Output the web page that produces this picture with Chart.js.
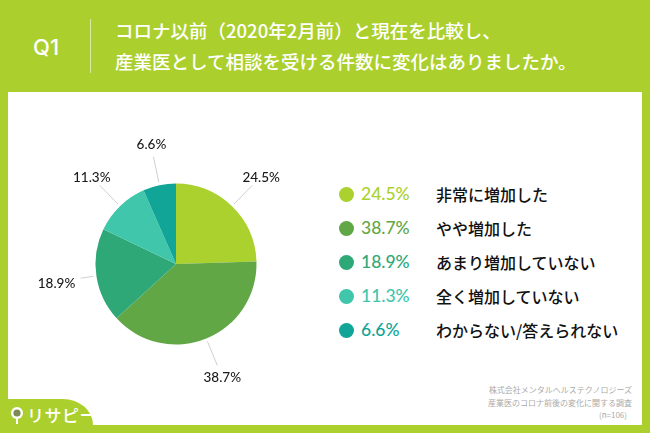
<!DOCTYPE html>
<html lang="ja"><head><meta charset="utf-8">
<script src="https://cdn.jsdelivr.net/npm/chart.js@4"></script>
<style>
html,body{margin:0;padding:0;width:650px;height:433px;overflow:hidden;background:#abd02e;}
body{position:relative;font-family:"Noto Sans CJK JP","Noto Sans",sans-serif;}
.abs{position:absolute;white-space:nowrap;}
#panel{left:8px;top:92px;width:634px;height:333px;background:#fff;}
#tab{left:8px;top:399px;width:85px;height:26px;background:#abd02e;border-top-right-radius:30px 26px;}
#q{left:33px;top:33px;font:500 22px/28px Inter,"Noto Sans",sans-serif;color:#fff;}
#div{left:90px;top:19px;width:1px;height:54px;background:rgba(255,255,255,.55);}
.t{left:115px;color:#fff;font-size:18.5px;line-height:26px;font-weight:500;}
.foot{right:18px;color:#aaa;font-size:8px;line-height:12px;}
#logo{left:27px;top:403px;color:#fff;font-size:17px;line-height:24px;font-weight:500;letter-spacing:.5px;}
.dot{left:339px;width:15px;height:15px;border-radius:50%;}
.pct{left:361px;font:500 17.5px/24px Lato,"Noto Sans",sans-serif;}
.lab{left:436px;font-size:16px;line-height:24px;font-weight:500;color:#111;}
canvas{position:absolute;left:0;top:0;}
</style></head><body>
<div class="abs" id="panel"></div>
<div class="abs" id="tab"></div>
<svg class="abs" style="left:9px;top:405px" width="16" height="22" viewBox="0 0 16 22"><circle cx="8" cy="8" r="6" fill="#fff"/><circle cx="8" cy="8" r="3.6" fill="#7d8a55"/><rect x="7" y="13" width="2" height="6" fill="#fff"/></svg>
<div class="abs" id="logo">リサピー</div>
<div class="abs" id="q">Q1</div>
<div class="abs" id="div"></div>
<div class="abs t" id="t1" style="top:17px"></div>
<div class="abs t" id="t2" style="top:48px"></div>
<div id="legend"></div>
<div class="abs foot" style="top:384px" id="f1"></div>
<div class="abs foot" style="top:397px" id="f2"></div>
<div class="abs foot" style="top:409px;right:23px" id="f3"></div>
<canvas id="c" width="650" height="433"></canvas>
<script>
const categories = ["非常に増加した","やや増加した","あまり増加していない","全く増加していない","わからない/答えられない"];
const values = [24.5,38.7,18.9,11.3,6.6];
const valueLabels = ["24.5%","38.7%","18.9%","11.3%","6.6%"];
const sliceColors = ["#abd12f","#62a746","#2fa878","#3fc6ab","#10a596"];
const titleLines = ["コロナ以前（2020年2月前）と現在を比較し、","産業医として相談を受ける件数に変化はありましたか。"];
const footLines = ["株式会社メンタルヘルステクノロジーズ","産業医のコロナ前後の変化に関する調査","(n=106)"];

t1.textContent = titleLines[0]; t2.textContent = titleLines[1];
f1.textContent = footLines[0]; f2.textContent = footLines[1]; f3.textContent = footLines[2];

const rowTops = [194,228,262,296,330];
categories.forEach((name,i)=>{
  const y = rowTops[i];
  legend.insertAdjacentHTML('beforeend',
   `<div class="abs dot" style="top:${y-7.5}px;background:${sliceColors[i]}"></div>`+
   `<div class="abs pct" style="top:${y-12}px;color:${sliceColors[i]}">${valueLabels[i]}</div>`+
   `<div class="abs lab" style="top:${y-12}px">${name}</div>`);
});

// leader length past the rim, and label offset from the leader's end
const leaderEnd = [29,29,16,29,29];
const labelShift = [[9,-8],[5,12],[-24,5],[-8,-8],[-2,-12]];
const leaderPlugin = {
  id:'leaders',
  afterDatasetsDraw(chart){
    const g = chart.ctx, arcs = chart.getDatasetMeta(0).data;
    g.save();
    g.font = '500 13.5px Lato,"Noto Sans",sans-serif';
    g.textAlign='center'; g.textBaseline='middle';
    arcs.forEach((a,i)=>{
      const p = a.getProps(['x','y','startAngle','endAngle','outerRadius'],true);
      const m = (p.startAngle+p.endAngle)/2, c=Math.cos(m), s=Math.sin(m);
      const r0 = p.outerRadius+3, r1 = p.outerRadius+leaderEnd[i];
      const ex = p.x+c*r1, ey = p.y+s*r1;
      g.strokeStyle='#cfcfcf'; g.lineWidth=1;
      g.beginPath(); g.moveTo(p.x+c*r0,p.y+s*r0); g.lineTo(ex,ey); g.stroke();
      g.fillStyle='#1a1a1a';
      g.fillText(valueLabels[i], ex+labelShift[i][0], ey+labelShift[i][1]);
    });
    g.restore();
  }
};

new Chart(document.getElementById('c'),{
  type:'pie',
  data:{labels:categories,datasets:[{data:values,backgroundColor:sliceColors,borderWidth:0}]},
  options:{
    responsive:false,animation:false,
    layout:{padding:{left:95.5,right:393.5,top:183.5,bottom:88.5}},
    plugins:{legend:{display:false},tooltip:{enabled:false}}
  },
  plugins:[leaderPlugin]
});
</script>
</body></html>
